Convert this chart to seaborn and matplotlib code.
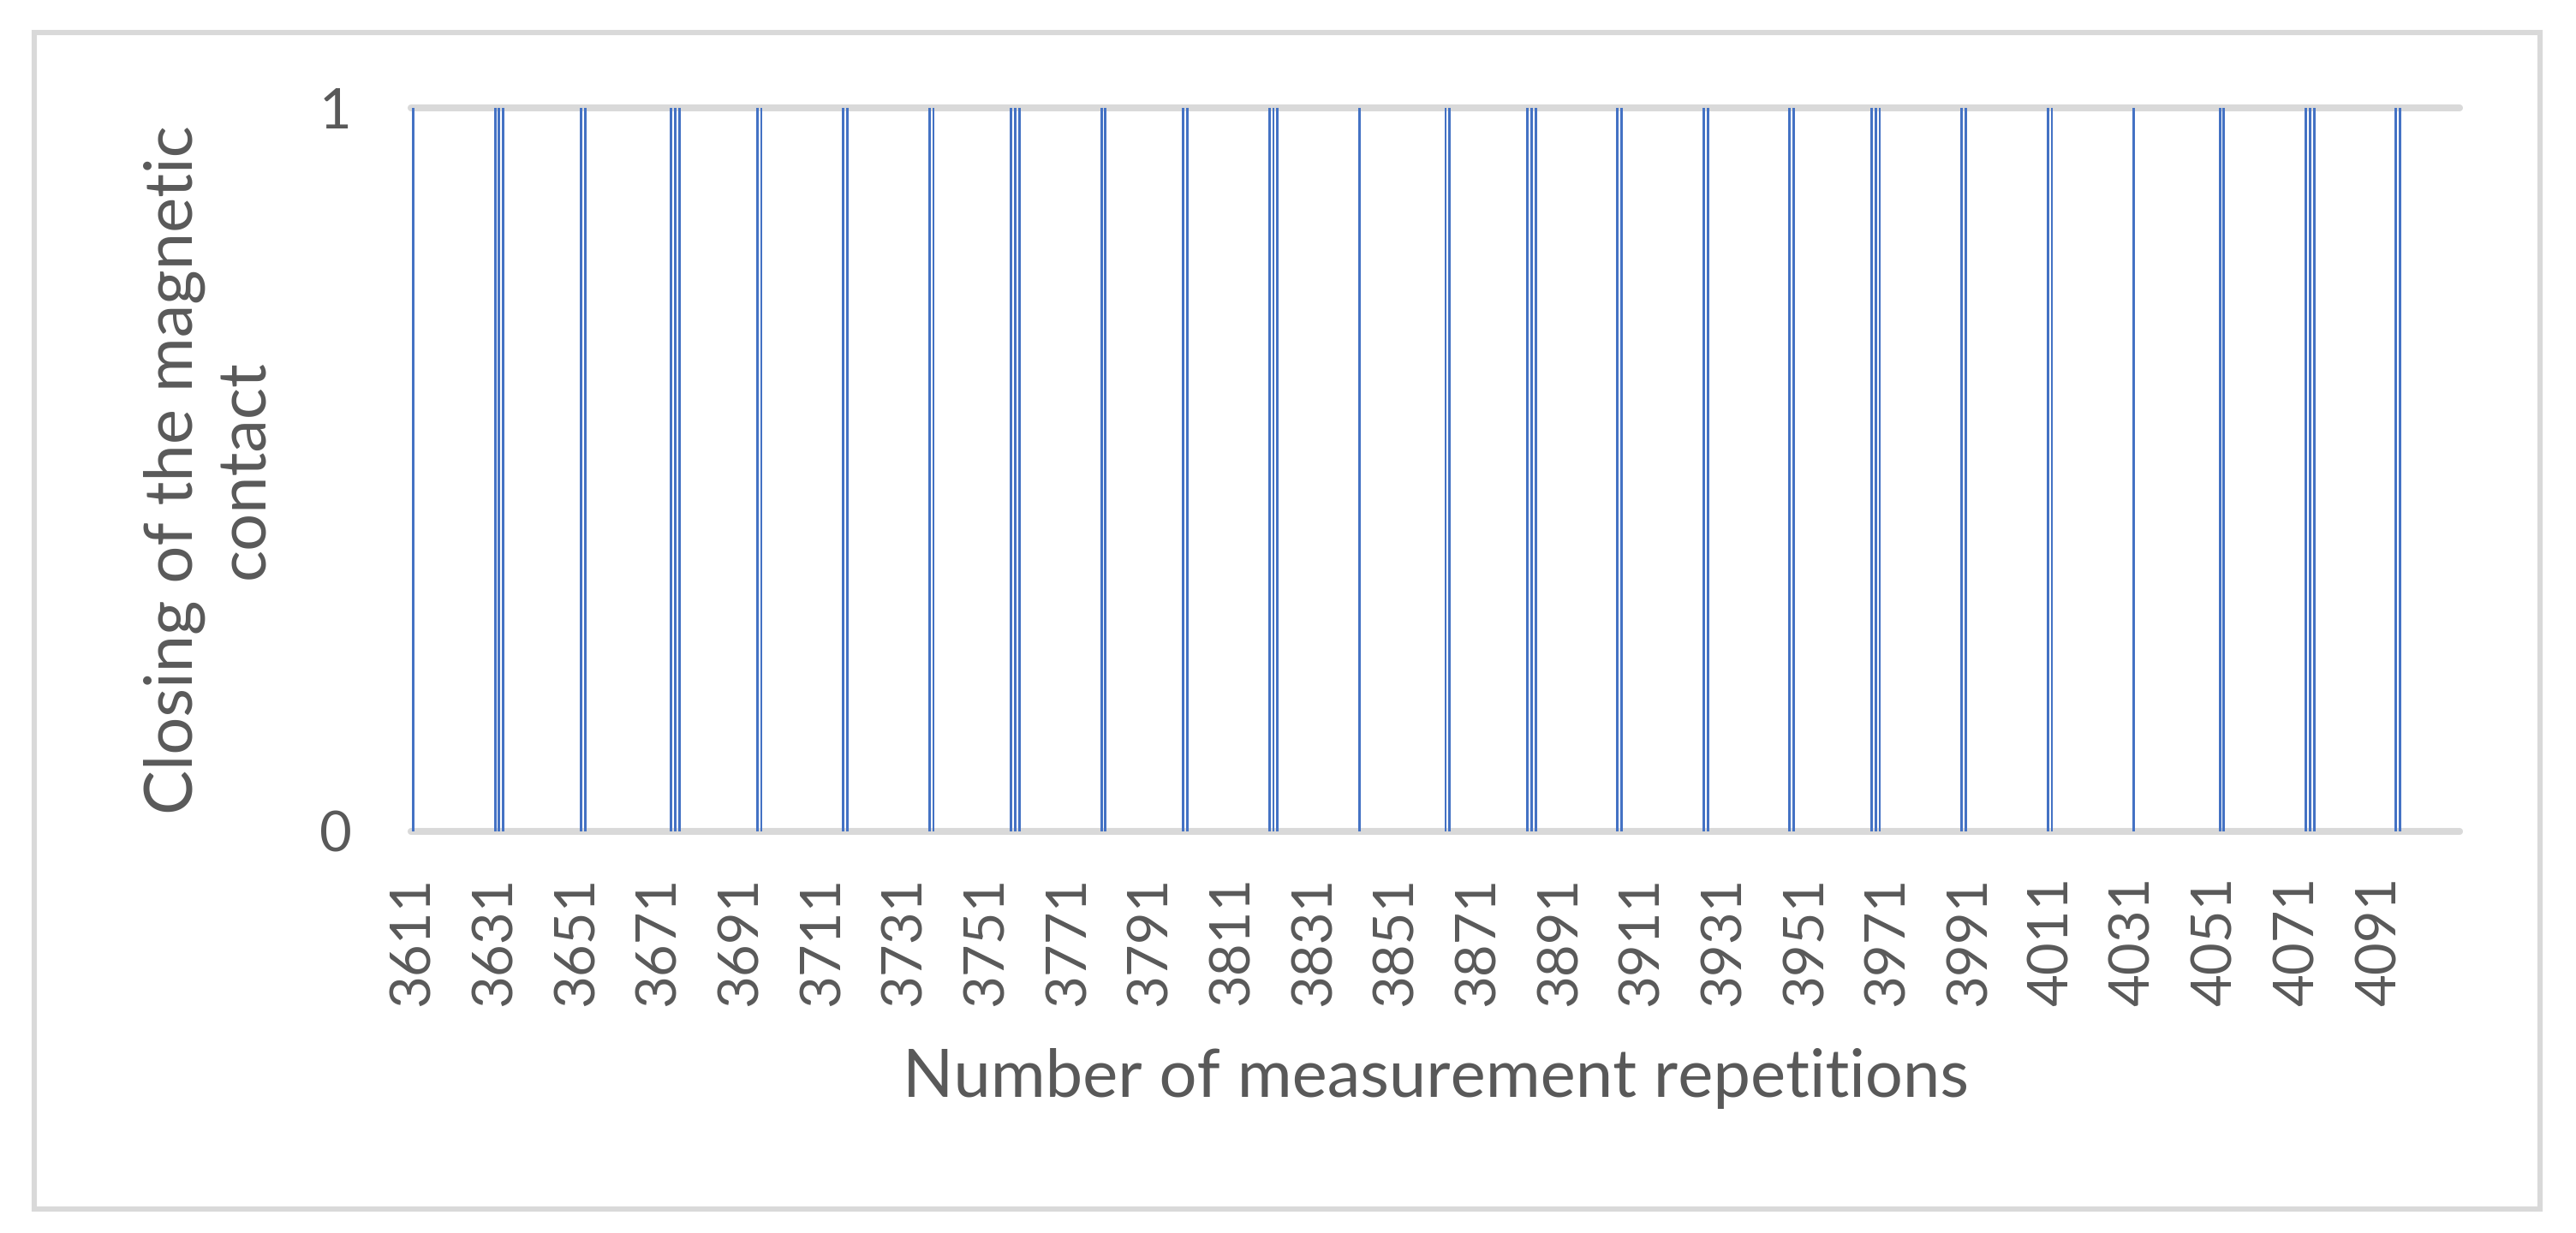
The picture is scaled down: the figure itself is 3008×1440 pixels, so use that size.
import pandas as pd
import matplotlib
matplotlib.use("Agg")
import matplotlib.pyplot as plt
import seaborn as sns
from matplotlib.patches import Rectangle

# measurement repetitions shown on the category axis
first_rep = 3611
last_rep = 4110
repetitions = list(range(first_rep, last_rep + 1))

# repetitions where the magnetic contact closed (value 1), all others are 0
closing_reps = [3611, 3631, 3632, 3633, 3652, 3653, 3674, 3675, 3676,
                3695, 3696, 3716, 3717, 3737, 3738, 3757, 3758, 3759,
                3779, 3780, 3799, 3800, 3820, 3821, 3822, 3842,
                3863, 3864, 3883, 3884, 3885, 3905, 3906, 3926, 3927,
                3947, 3948, 3967, 3968, 3969, 3989, 3990, 4010, 4011,
                4031, 4052, 4053, 4073, 4074, 4075, 4095, 4096]

tick_labels = [str(r) for r in range(3611, 4092, 20)]

df = pd.DataFrame({
    'rep': [str(r) for r in repetitions],
    'closing': [1 if r in closing_reps else 0 for r in repetitions],
})

sns.set_style('white')
plt.rcParams['font.family'] = ['Lato', 'DejaVu Sans']

grey_text = '#595959'
grid_col = '#D9D9D9'
bar_col = '#4472C4'

fig = plt.figure(figsize=(15.04, 7.2), dpi=200)
ax = fig.add_axes([480 / 3008, 1 - 970.5 / 1440, 2392 / 3008, 844.5 / 1440])

sns.barplot(data=df, x='rep', y='closing', color=bar_col, saturation=1,
            width=0.6, errorbar=None, linewidth=0, ax=ax, zorder=3)

ax.set_xlim(-0.5, len(repetitions) - 0.5)
ax.set_ylim(0, 1)
ax.set_yticks([0, 1])
ax.set_yticklabels(['0', '1'])
ticks = [repetitions.index(int(t)) for t in tick_labels]
ax.set_xticks(ticks)
ax.set_xticklabels(tick_labels, rotation=90)

for y in [0, 1]:
    ax.axhline(y, color=grid_col, lw=2.9, zorder=1, clip_on=False)

for s in ax.spines.values():
    s.set_visible(False)
ax.tick_params(axis='both', length=0, labelsize=23.5, colors=grey_text)
ax.tick_params(axis='y', pad=25)
ax.tick_params(axis='x', pad=19)

ax.set_xlabel('Number of measurement repetitions', fontsize=28, color=grey_text)
ax.xaxis.set_label_coords(0.5, -0.30)
ax.xaxis.label.set_va('top')
ax.set_ylabel('Closing of the magnetic\ncontact', fontsize=28, color=grey_text,
              multialignment='center')
ax.yaxis.set_label_coords(-0.066, 0.5)

fig.patches.append(Rectangle((40 / 3008, 1 - 1412 / 1440), 2926 / 3008, 1374 / 1440,
                             transform=fig.transFigure, fill=False,
                             edgecolor=grid_col, lw=2.2))

fig.savefig('out.png', dpi=200)
